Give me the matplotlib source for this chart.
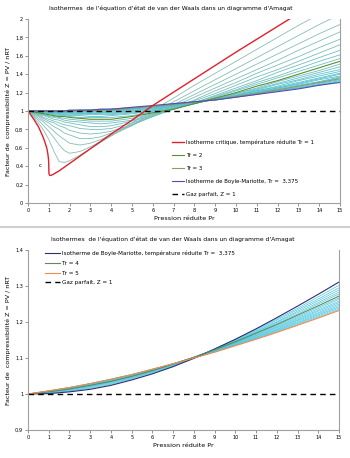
import numpy as np
import matplotlib
matplotlib.use('Agg')
import matplotlib.pyplot as plt
from matplotlib.colors import LinearSegmentedColormap
from matplotlib.ticker import FuncFormatter

# Reduced pressures where the isotherms were read (top chart)
pr_top = [0, 0.25, 0.5, 0.75, 1, 1.25, 1.5, 1.75, 2, 2.5, 3, 3.5, 4, 5, 6, 7, 8, 9, 10, 11, 12, 13, 14, 15]

# Critical isotherm Tr = 1 (denser around the critical point Pr = 1)
pr_crit = [0, 0.25, 0.5, 0.7, 0.8, 0.9, 0.95, 0.98, 0.995, 1.0, 1.005, 1.02, 1.05, 1.1, 1.2, 1.35, 1.5, 2, 3, 4, 5, 6, 8, 10, 12, 13]
z_crit = [1.00, 0.92, 0.83, 0.73, 0.67, 0.60, 0.54, 0.49, 0.44, 0.38, 0.33, 0.31, 0.30, 0.30, 0.31, 0.33, 0.35, 0.43, 0.59, 0.75, 0.90, 1.06, 1.35, 1.64, 1.92, 2.06]

# Compressibility factor Z for each reduced temperature Tr (top chart)
z_1_1 = [1.00, 0.94, 0.87, 0.79, 0.69, 0.56, 0.45, 0.44, 0.46, 0.52, 0.59, 0.66, 0.73, 0.87, 1.01, 1.14, 1.28, 1.41, 1.54, 1.67, 1.80, 1.93, 2.05, 2.18]
z_1_2 = [1.00, 0.95, 0.90, 0.84, 0.78, 0.71, 0.63, 0.57, 0.54, 0.56, 0.61, 0.67, 0.73, 0.85, 0.98, 1.10, 1.22, 1.34, 1.46, 1.58, 1.70, 1.82, 1.94, 2.05]
z_1_3 = [1.00, 0.96, 0.92, 0.88, 0.83, 0.78, 0.73, 0.69, 0.65, 0.63, 0.65, 0.69, 0.74, 0.84, 0.96, 1.07, 1.18, 1.29, 1.40, 1.51, 1.62, 1.73, 1.84, 1.94]
z_1_4 = [1.00, 0.97, 0.94, 0.90, 0.87, 0.83, 0.80, 0.76, 0.74, 0.70, 0.70, 0.72, 0.76, 0.85, 0.94, 1.05, 1.15, 1.25, 1.35, 1.45, 1.55, 1.66, 1.76, 1.86]
z_1_5 = [1.00, 0.97, 0.95, 0.92, 0.89, 0.87, 0.84, 0.82, 0.79, 0.76, 0.75, 0.76, 0.78, 0.85, 0.94, 1.03, 1.12, 1.22, 1.31, 1.41, 1.50, 1.59, 1.69, 1.78]
z_1_6 = [1.00, 0.98, 0.96, 0.93, 0.91, 0.89, 0.87, 0.85, 0.84, 0.81, 0.80, 0.80, 0.81, 0.87, 0.94, 1.02, 1.11, 1.19, 1.28, 1.37, 1.45, 1.54, 1.63, 1.72]
z_1_7 = [1.00, 0.98, 0.96, 0.95, 0.93, 0.91, 0.90, 0.88, 0.87, 0.85, 0.83, 0.83, 0.84, 0.89, 0.95, 1.02, 1.09, 1.17, 1.25, 1.33, 1.42, 1.50, 1.58, 1.66]
z_1_8 = [1.00, 0.98, 0.97, 0.96, 0.94, 0.93, 0.92, 0.90, 0.89, 0.88, 0.87, 0.86, 0.87, 0.90, 0.96, 1.02, 1.09, 1.16, 1.23, 1.31, 1.38, 1.46, 1.54, 1.61]
z_1_9 = [1.00, 0.99, 0.97, 0.96, 0.95, 0.94, 0.93, 0.92, 0.91, 0.90, 0.89, 0.89, 0.89, 0.92, 0.97, 1.02, 1.08, 1.15, 1.22, 1.29, 1.36, 1.43, 1.50, 1.57]
z_2_0 = [1.00, 0.99, 0.98, 0.97, 0.96, 0.95, 0.94, 0.94, 0.93, 0.92, 0.91, 0.91, 0.91, 0.94, 0.98, 1.02, 1.08, 1.14, 1.20, 1.27, 1.33, 1.40, 1.47, 1.54]
z_2_1 = [1.00, 0.99, 0.98, 0.97, 0.97, 0.96, 0.95, 0.95, 0.94, 0.93, 0.93, 0.93, 0.93, 0.95, 0.99, 1.03, 1.08, 1.14, 1.19, 1.25, 1.32, 1.38, 1.44, 1.51]
z_2_2 = [1.00, 0.99, 0.99, 0.98, 0.97, 0.97, 0.96, 0.96, 0.95, 0.95, 0.94, 0.94, 0.95, 0.97, 1.00, 1.03, 1.08, 1.13, 1.19, 1.24, 1.30, 1.36, 1.42, 1.48]
z_2_3 = [1.00, 0.99, 0.99, 0.98, 0.98, 0.97, 0.97, 0.96, 0.96, 0.96, 0.96, 0.96, 0.96, 0.98, 1.00, 1.04, 1.08, 1.13, 1.18, 1.23, 1.29, 1.34, 1.40, 1.45]
z_2_4 = [1.00, 0.99, 0.99, 0.99, 0.98, 0.98, 0.97, 0.97, 0.97, 0.97, 0.97, 0.97, 0.97, 0.99, 1.01, 1.05, 1.08, 1.13, 1.17, 1.22, 1.27, 1.33, 1.38, 1.43]
z_2_5 = [1.00, 1.00, 0.99, 0.99, 0.98, 0.98, 0.98, 0.98, 0.98, 0.97, 0.97, 0.98, 0.98, 1.00, 1.02, 1.05, 1.09, 1.13, 1.17, 1.22, 1.26, 1.31, 1.36, 1.41]
z_2_6 = [1.00, 1.00, 0.99, 0.99, 0.99, 0.99, 0.98, 0.98, 0.98, 0.98, 0.98, 0.98, 0.99, 1.00, 1.03, 1.05, 1.09, 1.13, 1.17, 1.21, 1.25, 1.30, 1.35, 1.40]
z_2_7 = [1.00, 1.00, 0.99, 0.99, 0.99, 0.99, 0.99, 0.99, 0.99, 0.99, 0.99, 0.99, 1.00, 1.01, 1.03, 1.06, 1.09, 1.13, 1.16, 1.20, 1.25, 1.29, 1.34, 1.38]
z_2_8 = [1.00, 1.00, 1.00, 0.99, 0.99, 0.99, 0.99, 0.99, 0.99, 0.99, 0.99, 1.00, 1.00, 1.02, 1.04, 1.06, 1.09, 1.13, 1.16, 1.20, 1.24, 1.28, 1.32, 1.37]
z_2_9 = [1.00, 1.00, 1.00, 1.00, 0.99, 0.99, 0.99, 0.99, 0.99, 1.00, 1.00, 1.00, 1.01, 1.02, 1.04, 1.07, 1.09, 1.13, 1.16, 1.20, 1.23, 1.27, 1.31, 1.36]
z_3_0 = [1.00, 1.00, 1.00, 1.00, 1.00, 1.00, 1.00, 1.00, 1.00, 1.00, 1.00, 1.01, 1.01, 1.03, 1.05, 1.07, 1.10, 1.12, 1.16, 1.19, 1.23, 1.27, 1.31, 1.35]
z_3_1 = [1.00, 1.00, 1.00, 1.00, 1.00, 1.00, 1.00, 1.00, 1.00, 1.00, 1.01, 1.01, 1.02, 1.03, 1.05, 1.07, 1.10, 1.12, 1.16, 1.19, 1.22, 1.26, 1.30, 1.34]
z_3_2 = [1.00, 1.00, 1.00, 1.00, 1.00, 1.00, 1.00, 1.00, 1.00, 1.01, 1.01, 1.01, 1.02, 1.03, 1.05, 1.07, 1.10, 1.12, 1.15, 1.19, 1.22, 1.25, 1.29, 1.33]
z_3_3 = [1.00, 1.00, 1.00, 1.00, 1.00, 1.00, 1.00, 1.00, 1.00, 1.01, 1.01, 1.02, 1.02, 1.04, 1.05, 1.08, 1.10, 1.12, 1.15, 1.18, 1.22, 1.25, 1.28, 1.32]
z_boyle = [1.00, 1.00, 1.00, 1.00, 1.00, 1.00, 1.00, 1.00, 1.01, 1.01, 1.01, 1.02, 1.02, 1.04, 1.06, 1.08, 1.10, 1.12, 1.15, 1.18, 1.21, 1.24, 1.28, 1.31]

# Bottom chart: zoom on the isotherms above the Boyle temperature
pr_bot = list(range(16))
zb_3_375 = [1.000, 1.001, 1.006, 1.013, 1.024, 1.039, 1.056, 1.076, 1.099, 1.125, 1.152, 1.181, 1.212, 1.244, 1.277, 1.311]
zb_3_5 = [1.000, 1.003, 1.008, 1.016, 1.027, 1.042, 1.059, 1.078, 1.100, 1.125, 1.151, 1.179, 1.208, 1.238, 1.270, 1.302]
zb_3_6 = [1.000, 1.003, 1.009, 1.018, 1.029, 1.044, 1.060, 1.079, 1.101, 1.124, 1.150, 1.176, 1.205, 1.234, 1.264, 1.295]
zb_3_7 = [1.000, 1.004, 1.011, 1.020, 1.031, 1.045, 1.062, 1.081, 1.101, 1.124, 1.148, 1.174, 1.201, 1.230, 1.259, 1.289]
zb_3_8 = [1.000, 1.005, 1.012, 1.021, 1.033, 1.047, 1.063, 1.081, 1.102, 1.124, 1.147, 1.172, 1.199, 1.226, 1.254, 1.283]
zb_3_9 = [1.000, 1.005, 1.013, 1.022, 1.034, 1.048, 1.064, 1.082, 1.102, 1.123, 1.146, 1.170, 1.196, 1.222, 1.250, 1.278]
zb_4_0 = [1.000, 1.006, 1.014, 1.024, 1.035, 1.049, 1.065, 1.083, 1.102, 1.123, 1.145, 1.169, 1.193, 1.219, 1.245, 1.272]
zb_4_1 = [1.000, 1.006, 1.014, 1.025, 1.036, 1.050, 1.066, 1.083, 1.102, 1.122, 1.144, 1.167, 1.191, 1.215, 1.241, 1.267]
zb_4_2 = [1.000, 1.007, 1.015, 1.025, 1.037, 1.051, 1.067, 1.084, 1.102, 1.122, 1.143, 1.165, 1.188, 1.212, 1.237, 1.263]
zb_4_3 = [1.000, 1.007, 1.016, 1.026, 1.038, 1.052, 1.067, 1.084, 1.102, 1.121, 1.142, 1.163, 1.186, 1.209, 1.233, 1.258]
zb_4_4 = [1.000, 1.007, 1.016, 1.027, 1.039, 1.052, 1.068, 1.084, 1.102, 1.121, 1.141, 1.162, 1.184, 1.206, 1.230, 1.254]
zb_4_5 = [1.000, 1.008, 1.017, 1.027, 1.040, 1.053, 1.068, 1.084, 1.101, 1.120, 1.140, 1.160, 1.181, 1.204, 1.226, 1.250]
zb_4_6 = [1.000, 1.008, 1.017, 1.028, 1.040, 1.053, 1.068, 1.084, 1.101, 1.119, 1.138, 1.158, 1.179, 1.201, 1.223, 1.246]
zb_4_7 = [1.000, 1.008, 1.018, 1.028, 1.040, 1.054, 1.068, 1.084, 1.101, 1.119, 1.137, 1.157, 1.177, 1.198, 1.220, 1.242]
zb_4_8 = [1.000, 1.008, 1.018, 1.029, 1.041, 1.054, 1.068, 1.084, 1.100, 1.118, 1.136, 1.155, 1.175, 1.196, 1.217, 1.239]
zb_4_9 = [1.000, 1.009, 1.018, 1.029, 1.041, 1.054, 1.069, 1.084, 1.100, 1.117, 1.135, 1.154, 1.173, 1.193, 1.214, 1.235]
zb_5_0 = [1.000, 1.009, 1.018, 1.029, 1.041, 1.054, 1.069, 1.084, 1.100, 1.116, 1.134, 1.152, 1.171, 1.191, 1.211, 1.232]

top_cyan = [z_1_1, z_1_2, z_1_3, z_1_4, z_1_5, z_1_6, z_1_7, z_1_8, z_1_9,
            z_2_1, z_2_2, z_2_3, z_2_4, z_2_5, z_2_6, z_2_7, z_2_8, z_2_9,
            z_3_1, z_3_2, z_3_3]
bot_cyan = [zb_3_5, zb_3_6, zb_3_7, zb_3_8, zb_3_9,
            zb_4_1, zb_4_2, zb_4_3, zb_4_4, zb_4_5, zb_4_6, zb_4_7, zb_4_8, zb_4_9]

title = "Isothermes  de l'équation d'état de van der Waals dans un diagramme d'Amagat"
ylabel = 'Facteur de  compressibilité Z = PV / nRT'

plt.rcParams['font.family'] = ['DejaVu Sans']
fig = plt.figure(figsize=(3.5, 4.58), dpi=100)
comma = FuncFormatter(lambda v, p: ('%g' % round(v, 2)).replace('.', ','))

ax1 = fig.add_axes([28/350, 1-203/458, 312/350, 184/458])
ax2 = fig.add_axes([28/350, 1-430/458, 311/350, 180/458])

# Top chart: all isotherms from the critical one up to the Boyle temperature
cm = LinearSegmentedColormap.from_list('teal', ['#8cbcb4', '#38c4dc'])
for i, z in enumerate(top_cyan):
    ax1.plot(pr_top, z, color=cm(i/len(top_cyan)), lw=0.6)
ax1.plot(pr_top, z_2_0, color='#5a8f32', lw=0.8, label='Tr = 2')
ax1.plot(pr_top, z_3_0, color='#9b9566', lw=0.8, label='Tr = 3')
ax1.plot(pr_top, z_boyle, color='#5a4aa8', lw=0.8, label='Isotherme de Boyle-Mariotte, Tr =  3,375')
ax1.plot(pr_crit, z_crit, color='#e0202a', lw=1.0, label='Isotherme critique, température réduite Tr = 1')
ax1.axhline(1, color='black', lw=1.0, ls=(0, (4, 3)), label='Gaz parfait, Z = 1')
ax1.text(0.6, 0.41, 'c', fontsize=4, ha='center', va='center')

# Bottom chart: isotherms between the Boyle temperature and Tr = 5
for z in bot_cyan:
    ax2.plot(pr_bot, z, color='#4cc6de', lw=0.5)
ax2.plot(pr_bot, zb_3_375, color='#2b2f6e', lw=0.8, label='Isotherme de Boyle-Mariotte, température réduite Tr =  3,375')
ax2.plot(pr_bot, zb_4_0, color='#5f8a5f', lw=0.8, label='Tr = 4')
ax2.plot(pr_bot, zb_5_0, color='#f08a50', lw=0.8, label='Tr = 5')
ax2.axhline(1, color='black', lw=1.0, ls=(0, (4, 3)), label='Gaz parfait, Z = 1')

for ax, lo, hi, st in [(ax1, 0, 2, 0.2), (ax2, 0.9, 1.4, 0.1)]:
    ax.set_xlim(0, 15)
    ax.set_ylim(lo, hi)
    ax.set_xticks(range(16))
    ax.set_yticks(np.arange(lo, hi + 1e-9, st))
    ax.yaxis.set_major_formatter(comma)
    ax.tick_params(labelsize=3.6, length=2, width=0.6, color='#808080', pad=1.5)
    for s in ['left', 'bottom', 'right']:
        ax.spines[s].set_color('#a0a0a0')
        ax.spines[s].set_linewidth(0.8)
    ax.spines['top'].set_visible(False)
    ax.set_xlabel('Pression réduite Pr', fontsize=4.6, labelpad=2)
    ax.set_ylabel(ylabel, fontsize=4.6, labelpad=3)

fig.text(171/350, 1-8/458, title, fontsize=4.3, ha='center', va='center')
fig.text(173/350, 1-239/458, title, fontsize=4.3, ha='center', va='center')

# Legends: critical isotherm listed first in the top chart
h, l = ax1.get_legend_handles_labels()
order = [3, 0, 1, 2, 4]
ax1.legend([h[i] for i in order], [l[i] for i in order], loc='lower left', fontsize=3.95, frameon=False,
           handlelength=2.1, handletextpad=0.4, labelspacing=1.45, borderpad=0, borderaxespad=0,
           bbox_to_anchor=((172-28)/312, (203-197)/184))
ax2.legend(loc='upper left', fontsize=4.1, frameon=False, handlelength=2.7, handletextpad=0.2,
           labelspacing=0.85, borderpad=0, borderaxespad=0, bbox_to_anchor=((45-28)/311, 0.998))

# Grey separator between the two charts
fig.add_artist(plt.Line2D([0, 1], [1-227/458, 1-227/458], color='#d0d0d0', lw=1.5))
fig.savefig('out.png')
